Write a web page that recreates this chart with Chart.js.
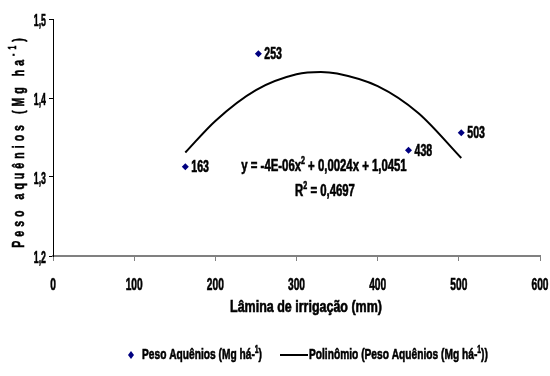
<!DOCTYPE html>
<html>
<head>
<meta charset="utf-8">
<script src="https://cdn.jsdelivr.net/npm/chart.js@4.4.0/dist/chart.umd.min.js"></script>
<style>
  body { margin: 0; background: #fff; }
  #wrap { width: 550px; height: 376px; }
</style>
</head>
<body>
<div id="wrap"><canvas id="chart" width="550" height="376"></canvas></div>
<script>
// observed points (irrigation depth, achene weight)
const laminas = [163, 253, 438, 503]
const pesos = [1.313, 1.456, 1.334, 1.356]
const pointLabels = ["163", "253", "438", "503"]

// trend curve
const curveX = [163, 200, 250, 300, 330, 350, 400, 450, 503]
const curveY = [1.331, 1.371, 1.410, 1.430, 1.433, 1.431, 1.415, 1.381, 1.324]

const xTicks = [0, 100, 200, 300, 400, 500, 600]
const yTicks = [1.2, 1.3, 1.4, 1.5]

const FONT = "'Liberation Sans', Arial, sans-serif"

// draws text runs (some superscript) squeezed horizontally, like a narrow font
function narrowText(ctx, runs, x, y, align, size, squeeze, spacing) {
    ctx.save()
    ctx.letterSpacing = (spacing || 0) + "px"
    let total = 0
    runs.forEach(r => {
        ctx.font = "bold " + (r.sup ? Math.round(size * 0.65) : size) + "px " + FONT
        r.w = ctx.measureText(r.t).width
        total += r.w
    })
    ctx.translate(x, y)
    ctx.scale(squeeze, 1)
    let cx = align === "center" ? -total / 2 : align === "right" ? -total : 0
    ctx.textAlign = "left"
    ctx.textBaseline = "middle"
    ctx.strokeStyle = ctx.fillStyle
    ctx.lineWidth = 0.6
    runs.forEach(r => {
        ctx.font = "bold " + (r.sup ? Math.round(size * 0.65) : size) + "px " + FONT
        const ty = r.sup ? -size * 0.35 : 0
        ctx.fillText(r.t, cx, ty)
        ctx.strokeText(r.t, cx, ty)
        cx += r.w
    })
    ctx.restore()
}

const fmt = v => v.toFixed(1).replace(".", ",")

const extras = {
    id: "extras",
    afterDatasetsDraw(chart) {
        const ctx = chart.ctx
        const xs = chart.scales.x
        const ys = chart.scales.y
        ctx.save()
        ctx.fillStyle = "#000"

        // tick labels
        xTicks.forEach(v => narrowText(ctx, [{ t: String(v) }], xs.getPixelForValue(v), 285, "center", 17, 0.6))
        yTicks.forEach(v => narrowText(ctx, [{ t: fmt(v) }], 46, ys.getPixelForValue(v) + 3, "right", 16, 0.55))

        // point labels
        const meta = chart.getDatasetMeta(0)
        meta.data.forEach((pt, i) => {
            narrowText(ctx, [{ t: pointLabels[i] }], pt.x + 6, pt.y + 1, "left", 16, 0.66)
        })

        // equation
        narrowText(ctx, [{ t: "y = -4E-06x" }, { t: "2", sup: true }, { t: " + 0,0024x + 1,0451" }], 324, 167, "center", 16, 0.71)
        narrowText(ctx, [{ t: "R" }, { t: "2", sup: true }, { t: " = 0,4697" }], 325, 192, "center", 16, 0.71)

        // y title
        ctx.save()
        ctx.translate(19, 141)
        ctx.rotate(-Math.PI / 2)
        narrowText(ctx, [{ t: "Peso aquênios (Mg ha" }, { t: "-1", sup: true }, { t: ")" }], 0, 0, "center", 17, 0.62, 6.5)
        ctx.restore()

        // x title
        narrowText(ctx, [{ t: "Lâmina de irrigação (mm)" }], 306, 308, "center", 16, 0.78)

        // legend
        const ly = 355
        ctx.fillStyle = "#000080"
        ctx.beginPath()
        ctx.moveTo(131, ly - 4)
        ctx.lineTo(134, ly)
        ctx.lineTo(131, ly + 4)
        ctx.lineTo(128, ly)
        ctx.closePath()
        ctx.fill()
        ctx.fillStyle = "#000"
        narrowText(ctx, [{ t: "Peso Aquênios (Mg há-" }, { t: "1", sup: true }, { t: ")" }], 142, ly, "left", 15, 0.68)
        ctx.strokeStyle = "#000"
        ctx.lineWidth = 2
        ctx.beginPath()
        ctx.moveTo(280, ly)
        ctx.lineTo(308, ly)
        ctx.stroke()
        narrowText(ctx, [{ t: "Polinômio (Peso Aquênios (Mg há-" }, { t: "1", sup: true }, { t: "))" }], 309, ly, "left", 15, 0.68)
        ctx.restore()
    }
}

new Chart(document.getElementById("chart"), {
    type: "scatter",
    data: {
        datasets: [
            {
                label: "Peso Aquênios (Mg há-¹)",
                data: laminas.map((x, i) => ({ x: x, y: pesos[i] })),
                pointStyle: "rectRot",
                pointRadius: 3.5,
                backgroundColor: "#000080",
                borderColor: "#000080",
                borderWidth: 0,
            },
            {
                label: "Polinômio (Peso Aquênios (Mg há-¹))",
                type: "line",
                data: curveX.map((x, i) => ({ x: x, y: curveY[i] })),
                borderColor: "#000",
                borderWidth: 2,
                pointRadius: 0,
                fill: false,
                cubicInterpolationMode: "monotone",
            },
        ],
    },
    options: {
        responsive: false,
        animation: false,
        layout: { padding: { left: 0, right: 10, top: 19, bottom: 80 } },
        plugins: { legend: { display: false }, tooltip: { enabled: false } },
        scales: {
            x: {
                type: "linear",
                min: 0,
                max: 600,
                afterBuildTicks: s => { s.ticks = xTicks.map(v => ({ value: v })) },
                afterFit: s => { s.height = 40 },
                border: { color: "#808080", width: 2 },
                grid: { drawOnChartArea: false, color: "#808080", tickLength: 5, tickWidth: 1 },
                ticks: { display: false },
            },
            y: {
                min: 1.2,
                max: 1.5,
                afterBuildTicks: s => { s.ticks = yTicks.map(v => ({ value: v })) },
                afterFit: s => { s.width = 53 },
                border: { color: "#000", width: 1 },
                grid: { drawOnChartArea: false, color: "#000", tickLength: 4 },
                ticks: { display: false },
            },
        },
    },
    plugins: [extras],
})
</script>
</body>
</html>
